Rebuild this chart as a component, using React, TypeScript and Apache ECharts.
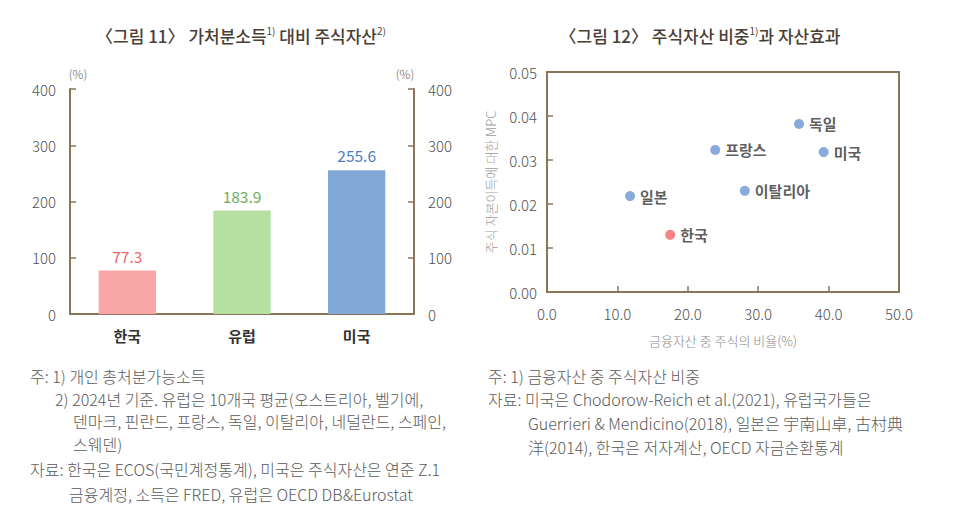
import React, { useEffect, useRef } from 'react';
import * as echarts from 'echarts';

// ---- Data ----
const barCategories = ['한국', '유럽', '미국'];
const barValues = [77.3, 183.9, 255.6];
const barColors = ['#F9A7A6', '#B5E0A2', '#82A8D7'];
const barLabelColors = ['#EE6A6A', '#6DAE55', '#4D7DC4'];

const scatterNames = ['독일', '프랑스', '미국', '일본', '이탈리아', '한국'];
const scatterX = [35.8, 23.9, 39.3, 11.8, 28.1, 17.5];
const scatterY = [0.0382, 0.0323, 0.0318, 0.0218, 0.023, 0.013];
const scatterColors = ['#6C96D2', '#6C96D2', '#6C96D2', '#6C96D2', '#6C96D2', '#F26464'];

const leftNotes = [
  '주: 1) 개인 총처분가능소득',
  '2) 2024년 기준. 유럽은 10개국 평균(오스트리아, 벨기에,',
  '덴마크, 핀란드, 프랑스, 독일, 이탈리아, 네덜란드, 스페인,',
  '스웨덴)',
  '자료: 한국은 ECOS(국민계정통계), 미국은 주식자산은 연준 Z.1',
  '금융계정, 소득은 FRED, 유럽은 OECD DB&Eurostat',
];
const rightNotes = [
  '주: 1) 금융자산 중 주식자산 비중',
  '자료: 미국은 Chodorow-Reich et al.(2021), 유럽국가들은',
  'Guerrieri & Mendicino(2018), 일본은 宇南山卓, 古村典',
  '洋(2014), 한국은 저자계산, OECD 자금순환통계',
];

const FONT = '"Noto Sans CJK KR", "Noto Sans", sans-serif';
const AXIS = '#8C7457';
const TICK_TEXT = '#505050';
const NOTE = '#5a5a5a';

export default function App() {
  const ref = useRef<HTMLDivElement>(null);
  useEffect(() => {
    document.body.style.margin = '0';
    const chart = echarts.init(ref.current!, null, { renderer: 'svg' });

    const leftPos = [
      [30, 376], [55, 399], [73, 421], [73, 444], [30, 469], [69, 494],
    ];
    const rightPos = [
      [488, 376], [488, 399], [528, 423], [528, 447],
    ];
    const noteText = (t: string, p: number[]) => ({
      type: 'text',
      x: p[0],
      y: p[1],
      style: {
        text: t,
        fill: NOTE,
        font: `300 16px ${FONT}`,
        verticalAlign: 'middle',
        align: 'left',
      },
    });

    const valueAxisCommon = {
      type: 'value',
      min: 0,
      max: 400,
      interval: 100,
      gridIndex: 0,
      splitLine: { show: false },
      axisLine: { show: true, lineStyle: { color: AXIS, width: 2 } },
      axisTick: { show: true, inside: true, length: 6, lineStyle: { color: AXIS, width: 1.5 } },
      axisLabel: { color: TICK_TEXT, fontSize: 15, fontWeight: 300, fontFamily: FONT, margin: 14 },
    };

    const option: any = {
      animation: false,
      textStyle: { fontFamily: FONT },
      grid: [
        { left: 70, top: 89, width: 344, height: 225, containLabel: false },
        {
          left: 547, top: 72, width: 352, height: 220, containLabel: false,
          show: true, borderColor: AXIS, borderWidth: 2, backgroundColor: 'transparent',
        },
      ],
      xAxis: [
        {
          type: 'category',
          gridIndex: 0,
          data: barCategories,
          axisLine: { show: true, lineStyle: { color: AXIS, width: 2 } },
          axisTick: { show: false },
          axisLabel: { color: '#333', fontSize: 15, fontWeight: 'bold', fontFamily: FONT, margin: 14 },
        },
        {
          type: 'value',
          gridIndex: 1,
          min: 0,
          max: 50,
          interval: 10,
          splitLine: { show: false },
          axisLine: { show: true, lineStyle: { color: AXIS, width: 2 } },
          axisTick: { show: true, inside: true, length: 6, lineStyle: { color: AXIS, width: 1.5 } },
          axisLabel: {
            color: TICK_TEXT, fontSize: 15, fontWeight: 300, fontFamily: FONT, margin: 14,
            formatter: (v: number) => v.toFixed(1),
          },
          name: '금융자산 중 주식의 비율(%)',
          nameLocation: 'middle',
          nameGap: 42,
          nameTextStyle: { color: '#8a8a8a', fontSize: 13, fontWeight: 300, fontFamily: FONT },
        },
      ],
      yAxis: [
        { ...valueAxisCommon, position: 'left' },
        { ...valueAxisCommon, position: 'right' },
        {
          type: 'value',
          gridIndex: 1,
          min: 0,
          max: 0.05,
          interval: 0.01,
          splitLine: { show: false },
          axisLine: { show: true, lineStyle: { color: AXIS, width: 2 } },
          axisTick: { show: true, inside: true, length: 6, lineStyle: { color: AXIS, width: 1.5 } },
          axisLabel: {
            color: TICK_TEXT, fontSize: 15, fontWeight: 300, fontFamily: FONT, margin: 10,
            formatter: (v: number) => v.toFixed(2),
          },
          name: '주식 자본이득에 대한 MPC',
          nameLocation: 'middle',
          nameGap: 50,
          nameRotate: 90,
          nameTextStyle: { color: '#9a9a9a', fontSize: 13, fontWeight: 300, fontFamily: FONT },
        },
      ],
      series: [
        {
          type: 'bar',
          xAxisIndex: 0,
          yAxisIndex: 0,
          barWidth: '50%',
          data: barValues.map((v, i) => ({
            value: v,
            itemStyle: { color: barColors[i] },
            label: { color: barLabelColors[i] },
          })),
          label: {
            show: true,
            position: 'top',
            distance: 7,
            fontSize: 15.5,
            fontFamily: FONT,
            formatter: (p: any) => Number(p.value).toFixed(1),
          },
        },
        {
          type: 'scatter',
          xAxisIndex: 1,
          yAxisIndex: 2,
          symbolSize: 10,
          data: scatterNames.map((n, i) => ({
            name: n,
            value: [scatterX[i], scatterY[i]],
            itemStyle: { color: scatterColors[i] },
          })),
          label: {
            show: true,
            position: 'right',
            distance: 5,
            formatter: (p: any) => p.name,
            color: '#333',
            fontSize: 15,
            fontWeight: 'bold',
            fontFamily: FONT,
          },
        },
      ],
      graphic: [
        {
          type: 'text',
          x: 241,
          y: 35,
          style: {
            text: '〈그림 11〉 가처분소득{sup|1)} 대비 주식자산{sup|2)}',
            fill: '#4a3f36',
            font: `500 17px ${FONT}`,
            align: 'center',
            verticalAlign: 'middle',
            rich: {
              sup: { fontSize: 10, fill: '#4a3f36', verticalAlign: 'top', fontFamily: FONT, padding: [0, 0, 10, 0] },
            },
          },
        },
        {
          type: 'text',
          x: 700,
          y: 35,
          style: {
            text: '〈그림 12〉 주식자산 비중{sup|1)}과 자산효과',
            fill: '#4a3f36',
            font: `500 17px ${FONT}`,
            align: 'center',
            verticalAlign: 'middle',
            rich: {
              sup: { fontSize: 10, fill: '#4a3f36', verticalAlign: 'top', fontFamily: FONT, padding: [0, 0, 10, 0] },
            },
          },
        },
        {
          type: 'text', x: 78, y: 73,
          style: { text: '(%)', fill: '#666', font: `300 12px ${FONT}`, align: 'center', verticalAlign: 'middle' },
        },
        {
          type: 'text', x: 405, y: 73,
          style: { text: '(%)', fill: '#666', font: `300 12px ${FONT}`, align: 'center', verticalAlign: 'middle' },
        },
        ...leftNotes.map((t, i) => noteText(t, leftPos[i])),
        ...rightNotes.map((t, i) => noteText(t, rightPos[i])),
      ],
    };
    chart.setOption(option);
    return () => chart.dispose();
  }, []);
  return (
    <div
      ref={ref}
      style={{ position: 'absolute', left: 0, top: 0, width: 966, height: 519, background: '#fff' }}
    />
  );
}
